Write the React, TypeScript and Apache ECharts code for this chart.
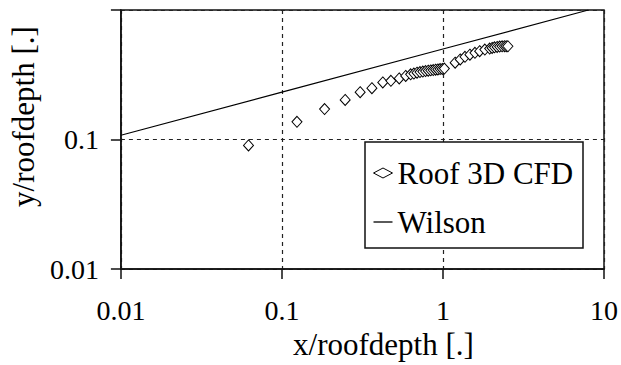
import React, { useEffect, useRef } from "react";
import * as echarts from "echarts";

const cfdX = [0.062, 0.124, 0.184, 0.247, 0.306, 0.362, 0.423, 0.475, 0.535, 0.587, 0.63, 0.66, 0.69, 0.72, 0.75, 0.78, 0.81, 0.84, 0.87, 0.9, 0.93, 0.96, 0.99, 1.02, 1.19, 1.28, 1.37, 1.47, 1.58, 1.69, 1.82, 1.95, 2.02, 2.09, 2.17, 2.25, 2.33, 2.41, 2.47, 2.53];
const cfdY = [0.09, 0.137, 0.172, 0.202, 0.232, 0.249, 0.276, 0.284, 0.296, 0.31, 0.319, 0.323, 0.328, 0.332, 0.335, 0.338, 0.34, 0.342, 0.344, 0.346, 0.348, 0.35, 0.351, 0.353, 0.392, 0.415, 0.435, 0.452, 0.467, 0.481, 0.495, 0.504, 0.51, 0.515, 0.519, 0.522, 0.524, 0.525, 0.525, 0.525];
const wilsonX = [0.01, 0.1, 1, 8];
const wilsonY = [0.108, 0.232, 0.5, 1.0];
const seriesNames = ["Roof 3D CFD", "Wilson"];
const xTitle = "x/roofdepth [.]";
const yTitle = "y/roofdepth [.]";

const FONT = "Liberation Serif";
const FS_TICK = 28;
const FS_TEXT = 31;

export default function App() {
  const ref = useRef<HTMLDivElement>(null);
  useEffect(() => {
    if (!ref.current) return;
    const chart = echarts.init(ref.current, undefined, { renderer: "svg" });
    const axisLine = { show: true, lineStyle: { color: "#111", width: 1.5 } };
    const split = { show: true, lineStyle: { color: "#222", width: 1.2, type: [4, 4] as any } };
    chart.setOption({
      animation: false,
      backgroundColor: "#fff",
      grid: { left: 120, right: 14, top: 10, bottom: 93, show: true, borderColor: "#111", borderWidth: 1.5 },
      xAxis: {
        type: "log",
        logBase: 10,
        min: 0.01,
        max: 10,
        axisLine,
        axisTick: { show: true, length: 10, lineStyle: { color: "#111", width: 1.5 } },
        splitLine: split,
        axisLabel: {
          margin: 27,
          fontSize: FS_TICK,
          fontFamily: FONT,
          color: "#000",
          formatter: (v: number) => String(v),
        },
        name: xTitle,
        nameLocation: "middle",
        nameGap: 57,
        nameTextStyle: { fontSize: FS_TEXT, fontFamily: FONT, color: "#000", padding: [0, 0, 0, 42] },
      },
      yAxis: {
        type: "log",
        logBase: 10,
        min: 0.01,
        max: 1,
        axisLine,
        axisTick: { show: true, length: 10, lineStyle: { color: "#111", width: 1.5 } },
        splitLine: split,
        axisLabel: {
          margin: 22,
          fontSize: FS_TICK,
          fontFamily: FONT,
          color: "#000",
          formatter: (v: number) => (Math.abs(v - 1) < 1e-9 ? "" : String(v)),
        },
        name: yTitle,
        nameLocation: "middle",
        nameGap: 74,
        nameTextStyle: { fontSize: FS_TEXT, fontFamily: FONT, color: "#000", padding: [0, 0, 0, 46] },
      },
      legend: {
        orient: "vertical",
        left: 373,
        top: 156,
        padding: 0,
        itemWidth: 19,
        itemHeight: 10,
        itemGap: 15,
        z: 20,
        textStyle: { fontSize: FS_TEXT, fontFamily: FONT, color: "#000", lineHeight: 34 },
        data: [
          { name: seriesNames[0], icon: "diamond", itemStyle: { color: "#fff", borderColor: "#000", borderWidth: 1 } },
          { name: seriesNames[1], icon: "path://M0,0H19V1.3H0Z", itemStyle: { color: "#000", borderWidth: 0 } },
        ],
      },
      graphic: [
        {
          type: "rect",
          z: 10,
          shape: { x: 365, y: 142, width: 218, height: 106 },
          style: { fill: "#fff", stroke: "#111", lineWidth: 1.5 },
        },
      ],
      series: [
        {
          name: seriesNames[0],
          type: "scatter",
          symbol: "diamond",
          symbolSize: [10, 11],
          itemStyle: { color: "#fff", borderColor: "#000", borderWidth: 1, opacity: 1 },
          data: cfdX.map((x, i) => [x, cfdY[i]]),
          z: 3,
        },
        {
          name: seriesNames[1],
          type: "line",
          showSymbol: false,
          symbol: "none",
          lineStyle: { color: "#000", width: 1.2 },
          itemStyle: { color: "#000" },
          data: wilsonX.map((x, i) => [x, wilsonY[i]]),
          z: 2,
        },
      ],
    });
    return () => chart.dispose();
  }, []);
  return <div ref={ref} style={{ position: "fixed", left: 0, top: 0, width: 621, height: 365 }} />;
}
